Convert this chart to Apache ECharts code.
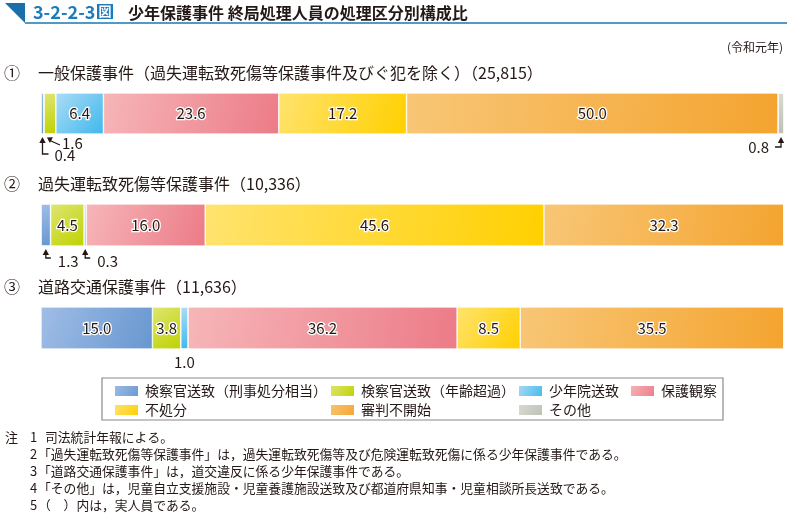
<!DOCTYPE html>
<html><head><meta charset="utf-8">
<script src="https://cdn.jsdelivr.net/npm/echarts@6/dist/echarts.min.js"></script>
<style>html,body{margin:0;padding:0;background:#fff}#c{width:787px;height:516px}</style>
</head><body><div id="c"></div>
<script>
const categories = ['検察官送致（刑事処分相当）','検察官送致（年齢超過）','少年院送致','保護観察','不処分','審判不開始','その他'];
const groupTitles = ['一般保護事件（過失運転致死傷等保護事件及びぐ犯を除く）（25,815）','過失運転致死傷等保護事件（10,336）','道路交通保護事件（11,636）'];
const groupMarks = ['①','②','③'];
const general = [0.4, 1.6, 6.4, 23.6, 17.2, 50.0, 0.8];
const negligent = [1.3, 4.5, 0.3, 16.0, 45.6, 32.3, 0];
const traffic = [15.0, 3.8, 1.0, 36.2, 8.5, 35.5, 0];
const groups = [general, negligent, traffic];
const notes = [
  ['注', '1', '司法統計年報による。'],
  ['', '2', '「過失運転致死傷等保護事件」は，過失運転致死傷等及び危険運転致死傷に係る少年保護事件である。'],
  ['', '3', '「道路交通保護事件」は，道交違反に係る少年保護事件である。'],
  ['', '4', '「その他」は，児童自立支援施設・児童養護施設送致及び都道府県知事・児童相談所長送致である。'],
  ['', '5', '（　）内は，実人員である。']
];

const FONT = '"Noto Sans CJK JP", "Noto Sans", sans-serif';
const TXT = '#231815';
const gradStops = [
  ['#a0bde6', '#6797d0'],
  ['#dde671', '#bfd200'],
  ['#acdcf6', '#3fb8ec'],
  ['#f6b6b8', '#ec7b87'],
  ['#ffe36e', '#ffd000'],
  ['#f8c676', '#f4a42f'],
  ['#d9dcd2', '#bcc0b5']
];
function grad(i){
  return {type:'linear', x:0, y:0, x2:1, y2:1, colorStops:[{offset:0,color:gradStops[i][0]},{offset:1,color:gradStops[i][1]}]};
}
const gridTops = [93, 204, 307];
const gridHeights = [41, 42, 42];
const gridLeft = 41, gridWidth = 743;

const grids = [], xAxes = [], yAxes = [], series = [];
groups.forEach((vals, g) => {
  grids.push({left: gridLeft, width: gridWidth, top: gridTops[g], height: gridHeights[g]});
  xAxes.push({type:'value', gridIndex:g, min:0, max:100, show:false});
  yAxes.push({type:'category', gridIndex:g, data:['x'], show:false});
  categories.forEach((name, i) => {
    series.push({
      type:'bar', name: name, stack:'s'+g, xAxisIndex:g, yAxisIndex:g,
      barWidth:'100%', data:[vals[i]],
      itemStyle:{color: grad(i), borderColor:'#ffffff', borderWidth:0.6},
      label:{show: vals[i] >= 3, position:'inside', formatter: p => p.value.toFixed(1),
        fontFamily: FONT, fontSize:15, color: TXT, textBorderColor:'#fff', textBorderWidth:2.5},
      emphasis:{disabled:true}, animation:false
    });
  });
});

const legendPos = [[113,384],[329,384],[517,384],[629,384],[113,403],[329,403],[517,403]];
const legends = categories.map((name, i) => ({
  data:[name], left: legendPos[i][0], top: legendPos[i][1], padding:0, orient:'horizontal',
  itemWidth:25, itemHeight:12, icon:'rect', selectedMode:false,
  textStyle:{fontFamily: FONT, fontSize:14, color: TXT, padding:[0,0,0,1]}
}));

const graphics = [];
// header
graphics.push({type:'polygon', shape:{points:[[5,3],[25,3],[25,23]]}, style:{fill:'#1a6eaa'}});
graphics.push({type:'line', shape:{x1:25,y1:23,x2:787,y2:23}, style:{stroke:'#1a77b5', lineWidth:1.5}});
graphics.push({type:'text', left:33, top:3, style:{text:'3-2-2-3', font:'bold 18px '+FONT, fill:'#1a7bbf'}});
graphics.push({type:'rect', shape:{x:97,y:4,width:16,height:15}, style:{fill:'#1a7bbf'}});
graphics.push({type:'text', x:105, y:11.5, style:{text:'図', font:'bold 13px '+FONT, fill:'#fff', align:'center', verticalAlign:'middle'}});
graphics.push({type:'text', x:128, y:13, style:{text:'少年保護事件 終局処理人員の処理区分別構成比', font:'bold 16px '+FONT, fill:TXT, verticalAlign:'middle'}});
graphics.push({type:'text', x:783, y:47, style:{text:'(令和元年)', font:'12px '+FONT, fill:TXT, align:'right', verticalAlign:'middle'}});
// section titles
const titleY = [73, 184, 287];
groupTitles.forEach((t, g) => {
  graphics.push({type:'text', x:12, y:titleY[g], style:{text:groupMarks[g], font:'16px '+FONT, fill:TXT, align:'center', verticalAlign:'middle'}});
  graphics.push({type:'text', x:38, y:titleY[g], style:{text:t, font:'16px '+FONT, fill:TXT, verticalAlign:'middle'}});
});
// legend box
graphics.push({type:'rect', shape:{x:102,y:378,width:621,height:42}, style:{fill:'none', stroke:'#8a8a8a', lineWidth:1.2}});
// notes
const noteY0 = 437, noteDY = 17;
notes.forEach((n, k) => {
  const y = noteY0 + k*noteDY;
  if (n[0]) graphics.push({type:'text', x:5, y:y, style:{text:n[0], font:'13px '+FONT, fill:TXT, verticalAlign:'middle'}});
  graphics.push({type:'text', x:30, y:y, style:{text:n[1], font:'13px '+FONT, fill:TXT, verticalAlign:'middle'}});
  const tx = n[2].charAt(0) === '「' || n[2].charAt(0) === '（' ? 38 : 45;
  graphics.push({type:'text', x:tx, y:y, style:{text:n[2], font:'12.8px '+FONT, fill:TXT, verticalAlign:'middle'}});
});

const chart = echarts.init(document.getElementById('c'), null, {renderer:'canvas'});
chart.setOption({animation:false, grid:grids, xAxis:xAxes, yAxis:yAxes, series:series, legend:legends, graphic:graphics});

// callouts for small segments
function segCenter(g, i){
  const vals = groups[g];
  let s = 0; for (let k=0;k<i;k++) s += vals[k];
  return chart.convertToPixel({xAxisIndex:g}, s + vals[i]/2);
}
const extra = [];
const lineStyle = {stroke:'#231815', lineWidth:1.3, fill:'none'};
function upHead(x, y){ return {type:'polygon', shape:{points:[[x,y],[x-3.2,y+6],[x+3.2,y+6]]}, style:{fill:'#231815'}}; }
function label(x, y, v, align){ return {type:'text', x:x, y:y, style:{text:v.toFixed(1), font:'15px '+FONT, fill:TXT, align:align, verticalAlign:'middle'}}; }
// group 0
{
  const b = gridTops[0] + gridHeights[0];
  let cx = segCenter(0,0);
  extra.push({type:'polyline', shape:{points:[[cx,b+5],[cx,b+20],[cx+6,b+20]]}, style:lineStyle});
  extra.push(upHead(cx, b+3));
  extra.push(label(cx+12, b+21, general[0], 'left'));
  cx = segCenter(0,1);
  extra.push({type:'line', shape:{x1:cx-1,y1:b+6,x2:cx+10,y2:b+11}, style:lineStyle});
  extra.push({type:'polygon', shape:{points:[[cx-3,b+3.5],[cx+3,b+3.2],[cx,b+9]]}, style:{fill:'#231815'}});
  extra.push(label(cx+12, b+9, general[1], 'left'));
  cx = segCenter(0,6);
  extra.push({type:'polyline', shape:{points:[[cx,b+5],[cx,b+13],[cx-6,b+13]]}, style:lineStyle});
  extra.push(upHead(cx, b+3));
  extra.push(label(cx-12, b+13, general[6], 'right'));
}
// group 1
{
  const b = gridTops[1] + gridHeights[1];
  [0,2].forEach(i => {
    const cx = segCenter(1,i);
    extra.push({type:'polyline', shape:{points:[[cx,b+5],[cx,b+12],[cx+5,b+12]]}, style:lineStyle});
    extra.push(upHead(cx, b+3));
    extra.push(label(cx+12, b+15, negligent[i], 'left'));
  });
}
// group 2
{
  const b = gridTops[2] + gridHeights[2];
  const cx = segCenter(2,2);
  extra.push(label(cx, b+13, traffic[2], 'center'));
}
chart.setOption({graphic: graphics.concat(extra)});
</script></body></html>
